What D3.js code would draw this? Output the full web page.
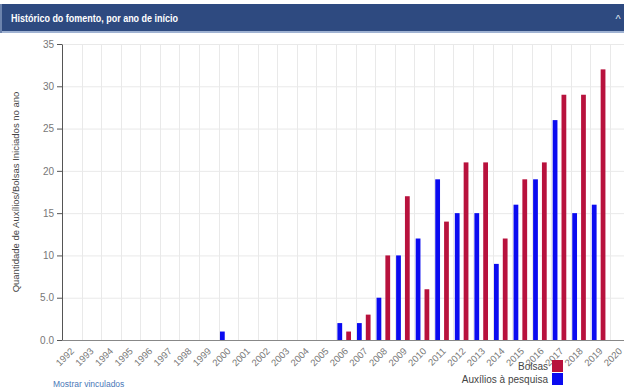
<!DOCTYPE html>
<html><head><meta charset="utf-8">
<script src="https://cdn.jsdelivr.net/npm/d3@7"></script>
<style>
html,body{margin:0;padding:0;background:#fff;overflow:hidden;}
svg{display:block;font-family:"Liberation Sans",Arial,sans-serif;}
</style></head>
<body>
<svg id="c" width="624" height="389"></svg>
<script>
const title = "Histórico do fomento, por ano de início";
const yTitle = "Quantidade de Auxílios/Bolsas Iniciados no ano";
const tickYears = ["1992","1993","1994","1995","1996","1997","1998","1999","2000","2001","2002","2003","2004","2005","2006","2007","2008","2009","2010","2011","2012","2013","2014","2015","2016","2017","2018","2019","2020"];
const years = [1992,1993,1994,1995,1996,1997,1998,1999,2000,2001,2002,2003,2004,2005,2006,2007,2008,2009,2010,2011,2012,2013,2014,2015,2016,2017,2018,2019];
const auxilios = [0,0,0,0,0,0,0,0,1,0,0,0,0,0,2,2,5,10,12,19,15,15,9,16,19,26,15,16];
const bolsas   = [0,0,0,0,0,0,0,0,0,0,0,0,0,0,1,3,10,17,6,14,21,21,12,19,21,29,29,32];
const yTicks = [0,5,10,15,20,25,30,35];
const seriesNames = ["Bolsas","Auxílios à pesquisa"];
const seriesColors = ["#b8123d","#0b0bf0"];

const svg = d3.select("#c");

// header panel
svg.append("rect").attr("x",0).attr("y",4).attr("width",624).attr("height",28).attr("fill","#2e4a80");
svg.append("rect").attr("x",0).attr("y",31).attr("width",624).attr("height",2).attr("fill","#9fb2d2");
svg.append("rect").attr("x",0).attr("y",4).attr("width",2).attr("height",29).attr("fill","#6c83ad");
svg.append("text").attr("x",11).attr("y",22).attr("fill","#fff").attr("font-weight","bold")
  .attr("font-size",11).attr("textLength",167).attr("lengthAdjust","spacingAndGlyphs").text(title);
svg.append("text").attr("x",618).attr("y",23).attr("fill","#dfe6f2").attr("font-size",11)
  .attr("text-anchor","middle").text("^");

const x = d3.scaleLinear().domain([1992,2020]).range([62,610]);
const y = d3.scaleLinear().domain([0,35]).range([340,44]);
const inner = d3.scaleBand().domain(["aux","bol"]).range([1.4, 15]).paddingInner(0.46).paddingOuter(0);

// grid
const g = svg.append("g");
g.selectAll(".hg").data(yTicks).join("line")
  .attr("x1",62).attr("x2",624).attr("y1",d=>y(d)+0.5).attr("y2",d=>y(d)+0.5)
  .attr("stroke","#e9e9e9");
g.selectAll(".vg").data(tickYears).join("line")
  .attr("x1",d=>Math.round(x(+d))+0.5).attr("x2",d=>Math.round(x(+d))+0.5)
  .attr("y1",y(35)).attr("y2",y(0))
  .attr("stroke","#e9e9e9");

// bars
const bars = svg.append("g");
bars.selectAll(".a").data(years.map((yr,i)=>({yr,v:auxilios[i]})).filter(d=>d.v>0)).join("rect")
  .attr("x",d=>x(d.yr)+inner("aux")).attr("width",inner.bandwidth())
  .attr("y",d=>y(d.v)).attr("height",d=>y(0)-y(d.v)).attr("fill",seriesColors[1]);
bars.selectAll(".b").data(years.map((yr,i)=>({yr,v:bolsas[i]})).filter(d=>d.v>0)).join("rect")
  .attr("x",d=>x(d.yr)+inner("bol")).attr("width",inner.bandwidth())
  .attr("y",d=>y(d.v)).attr("height",d=>y(0)-y(d.v)).attr("fill",seriesColors[0]);

// y axis
const ya = svg.append("g").attr("transform","translate(62,0)")
  .call(d3.axisLeft(y).tickValues(yTicks).tickFormat(d => d < 10 ? d.toFixed(1) : String(d)).tickSize(5).tickSizeOuter(0));
ya.select(".domain").attr("stroke","#555");
ya.selectAll(".tick line").attr("stroke","#555");
ya.selectAll(".tick text").attr("fill","#777").attr("font-size",10).attr("font-family","Liberation Sans, Arial, sans-serif");

// x axis baseline
svg.append("line").attr("x1",62).attr("x2",624).attr("y1",340.5).attr("y2",340.5).attr("stroke","#888");
svg.append("g").selectAll("text").data(tickYears).join("text")
  .attr("transform",d=>`translate(${x(+d)+8},${347}) rotate(-45)`)
  .attr("text-anchor","end").attr("dy","0.7em").attr("font-size",9.5).attr("fill","#777").text(d=>d);

// y title
svg.append("text").attr("transform","translate(19,192) rotate(-90)").attr("text-anchor","middle")
  .attr("font-size",9.5).attr("fill","#444").text(yTitle);

// legend
const leg = svg.append("g");
seriesNames.forEach((n,i)=>{
  const ly = 360 + i*13;
  leg.append("rect").attr("x",552).attr("y",ly).attr("width",11).attr("height",12).attr("fill",seriesColors[i]);
  leg.append("text").attr("x",548).attr("y",ly+9.5).attr("text-anchor","end").attr("font-size",10)
    .attr("fill","#444").text(n);
});

// link
svg.append("text").attr("x",53).attr("y",387).attr("font-size",8.5).attr("fill","#4a78b8").text("Mostrar vinculados");
</script>
</body></html>
